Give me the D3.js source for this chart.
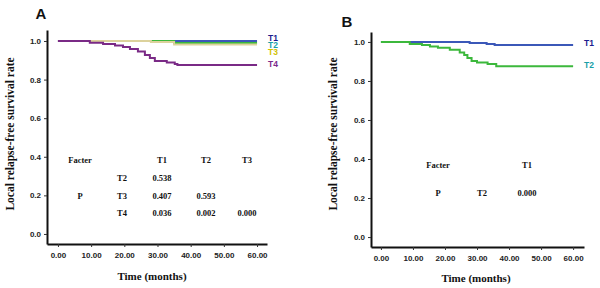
<!DOCTYPE html>
<html>
<head>
<meta charset="utf-8">
<script src="https://cdn.jsdelivr.net/npm/d3@7"></script>
<style>
  body { margin: 0; background: #fff; }
  .tick text { font-family: "Liberation Sans", Arial, sans-serif; font-weight: bold; font-size: 8px; fill: #222; }
  .serif { font-family: "Liberation Serif", "Times New Roman", serif; font-weight: bold; }
</style>
</head>
<body>
<svg id="chart" width="600" height="288"></svg>
<script>
// tick labels
const xTicks = [0, 10, 20, 30, 40, 50, 60];
const yTicks = [0, 0.2, 0.4, 0.6, 0.8, 1.0];

// panel A curves (time in months, survival)
const aT1time = [0, 60];
const aT1surv = [1.0, 1.0];
const aT2time = [0, 35, 60];
const aT2surv = [1.0, 0.99, 0.99];
const aT3time = [0, 28, 35, 60];
const aT3surv = [1.0, 0.995, 0.982, 0.982];
const aT4time = [0, 9.6, 13.6, 17.2, 19.6, 21.7, 24.1, 26.2, 27.7, 29.2, 32.8, 35.2, 36, 60];
const aT4surv = [1.0, 0.991, 0.984, 0.977, 0.969, 0.958, 0.946, 0.927, 0.912, 0.896, 0.889, 0.881, 0.876, 0.876];

// panel B curves
const bT1time = [0, 27.7, 33, 35.5, 60];
const bT1surv = [1.0, 0.995, 0.99, 0.985, 0.985];
const bT2time = [0, 9, 12.8, 15.3, 17.8, 21.5, 24.6, 26, 27, 28.3, 30, 33.3, 36, 60];
const bT2surv = [1.0, 0.99, 0.985, 0.977, 0.97, 0.96, 0.946, 0.933, 0.918, 0.903, 0.895, 0.887, 0.876, 0.876];

// p-value tables
const aCols = ["T1", "T2", "T3"];
const aRows = ["T2", "T3", "T4"];
const aP = [["0.538", "", ""], ["0.407", "0.593", ""], ["0.036", "0.002", "0.000"]];
const bCols = ["T1"];
const bRows = ["T2"];
const bP = [["0.000"]];

const svg = d3.select("#chart");

function panel(o) {
  const x = d3.scaleLinear().domain(o.xDom).range(o.xRange);
  const y = d3.scaleLinear().domain(o.yDom).range(o.yRange);
  const g = svg.append("g");

  const xa = g.append("g")
    .attr("transform", `translate(0,${o.yRange[0]})`)
    .call(d3.axisBottom(x).tickValues(xTicks).tickFormat(d3.format(".2f")).tickSize(3).tickSizeOuter(0));
  const ya = g.append("g")
    .attr("transform", `translate(${o.xRange[0]},0)`)
    .call(d3.axisLeft(y).tickValues(yTicks).tickFormat(d3.format(".1f")).tickSize(3).tickSizeOuter(0));
  [xa, ya].forEach(a => {
    a.select(".domain").attr("stroke", "#111").attr("stroke-width", 2);
    a.selectAll(".tick line").attr("stroke", "#333");
  });
  xa.selectAll(".tick text").attr("dy", "1.05em");

  const line = d3.line().x(d => x(d[0])).y(d => y(d[1])).curve(d3.curveStepAfter);
  o.curves.forEach(c => {
    g.append("path")
      .datum(d3.zip(c.t, c.s))
      .attr("d", line)
      .attr("fill", "none")
      .attr("stroke", c.color)
      .attr("stroke-width", 2);
  });
  o.curves.forEach(c => {
    g.append("text")
      .attr("x", x(60) + 11)
      .attr("y", c.ly)
      .attr("dominant-baseline", "middle")
      .style("font-family", "Liberation Sans, Arial, sans-serif")
      .style("font-weight", "bold")
      .style("font-size", "8.5px")
      .attr("fill", c.label)
      .text(c.name);
  });

  // panel letter
  g.append("text")
    .attr("x", o.letterX).attr("y", o.letterY)
    .attr("text-anchor", "middle")
    .style("font-family", "Liberation Sans, Arial, sans-serif")
    .style("font-weight", "bold").style("font-size", "15px")
    .attr("fill", "#111")
    .text(o.letter);

  // axis titles
  g.append("text").attr("class", "serif").attr("fill", "#111")
    .attr("transform", `translate(${o.yTitleX},134) rotate(-90)`)
    .attr("text-anchor", "middle").attr("dominant-baseline", "middle")
    .style("font-size", "11.5px")
    .text("Local relapse-free survival rate");
  g.append("text").attr("class", "serif").attr("fill", "#111")
    .attr("x", o.xTitleX).attr("y", o.xTitleY)
    .attr("text-anchor", "middle")
    .style("font-size", "11px")
    .text("Time (months)");

  // p-value table
  const t = o.table;
  const cell = (px, py, s) => g.append("text").attr("class", "serif")
    .attr("fill", "#111")
    .attr("x", px).attr("y", py).attr("text-anchor", "middle")
    .attr("dominant-baseline", "middle").style("font-size", "8.5px").text(s);
  cell(t.factX, t.headY, "Facter");
  cell(t.factX, t.pY, "P");
  t.cols.forEach((c, i) => cell(t.colX[i], t.headY, c));
  t.rows.forEach((r, j) => {
    cell(t.rowX, t.rowY[j], r);
    t.vals[j].forEach((v, i) => { if (v) cell(t.colX[i], t.rowY[j], v); });
  });
}

panel({
  xDom: [-3.3, 63], xRange: [47, 267],
  yDom: [-0.052, 1.057], yRange: [244, 30],
  letter: "A", letterX: 41, letterY: 19,
  yTitleX: 11, xTitleX: 152, xTitleY: 280,
  curves: [
    { name: "T1", t: aT1time, s: aT1surv, color: "#3b58b8", label: "#1c1c8e", ly: 39 },
    { name: "T2", t: aT2time, s: aT2surv, color: "#3cb83c", label: "#1aa0a8", ly: 46 },
    { name: "T3", t: aT3time, s: aT3surv, color: "#dcd29c", label: "#d2c200", ly: 53 },
    { name: "T4", t: aT4time, s: aT4surv, color: "#7a2a86", label: "#7b2a8c", ly: 65 }
  ],
  table: {
    factX: 80, pY: 197, headY: 161, rowX: 122,
    colX: [162, 206, 247], rowY: [179, 197, 214],
    cols: aCols, rows: aRows, vals: aP
  }
});

panel({
  xDom: [-3.1, 63.4], xRange: [371, 584],
  yDom: [-0.051, 1.051], yRange: [247, 32],
  letter: "B", letterX: 347, letterY: 27,
  yTitleX: 334, xTitleX: 476, xTitleY: 282,
  curves: [
    { name: "T1", t: bT1time, s: bT1surv, color: "#3b58b8", label: "#1c1c8e", ly: 44 },
    { name: "T2", t: bT2time, s: bT2surv, color: "#3cb83c", label: "#1aa0a8", ly: 66 }
  ],
  table: {
    factX: 438, pY: 194, headY: 166, rowX: 482,
    colX: [527], rowY: [194],
    cols: bCols, rows: bRows, vals: bP
  }
});
</script>
</body>
</html>
